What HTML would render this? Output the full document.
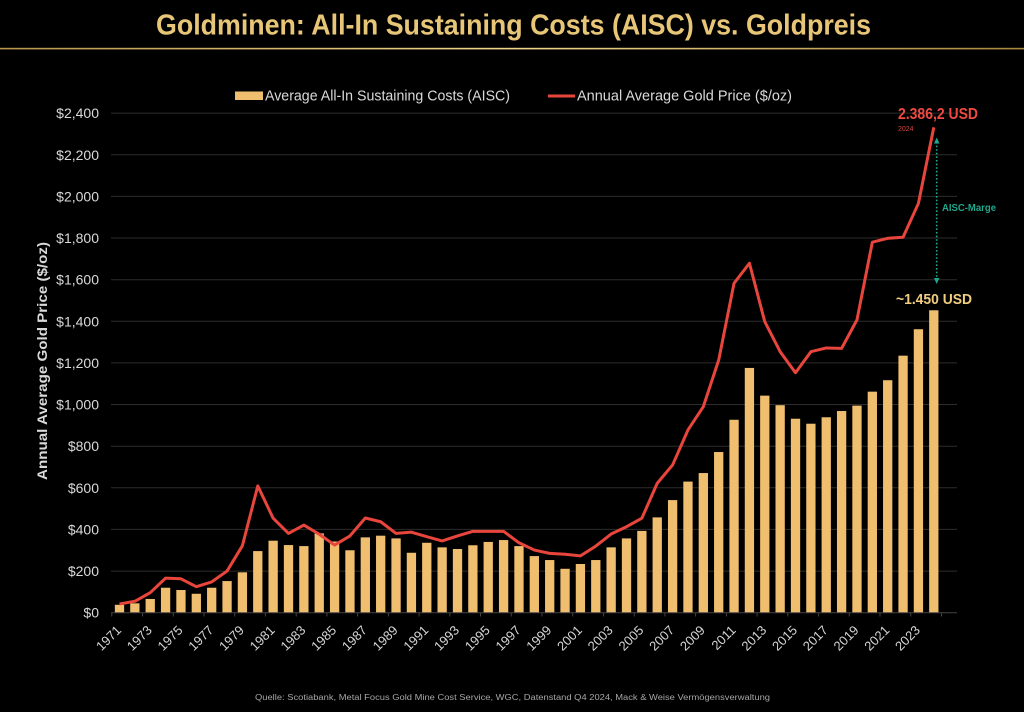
<!DOCTYPE html>
<html>
<head>
<meta charset="utf-8">
<style>
html,body{margin:0;padding:0;background:#000;}
svg{display:block;}
text{font-family:"Liberation Sans",Arial,sans-serif;}
</style>
</head>
<body>
<svg width="1024" height="712" viewBox="0 0 1024 712" xmlns="http://www.w3.org/2000/svg">
<defs>
<linearGradient id="tl" x1="0" x2="1" y1="0" y2="0">
<stop offset="0" stop-color="#b8954a"/>
<stop offset="0.5" stop-color="#f2d68e"/>
<stop offset="1" stop-color="#a88640"/>
</linearGradient>
</defs>
<rect width="1024" height="712" fill="#000"/>
<!-- Title -->
<text x="156" y="34.5" font-size="29" font-weight="bold" fill="#e8c677" textLength="715" lengthAdjust="spacingAndGlyphs">Goldminen: All-In Sustaining Costs (AISC) vs. Goldpreis</text>
<rect x="0" y="47.8" width="1024" height="1.6" fill="url(#tl)"/>

<!-- Legend -->
<rect x="235" y="91.5" width="28" height="8.5" fill="#efbf6f"/>
<text x="265" y="100.5" font-size="14.5" fill="#d9d9d9" textLength="245" lengthAdjust="spacingAndGlyphs">Average All-In Sustaining Costs (AISC)</text>
<line x1="548" y1="96" x2="575" y2="96" stroke="#e8453c" stroke-width="3"/>
<text x="577" y="100.5" font-size="14.5" fill="#d9d9d9" textLength="215" lengthAdjust="spacingAndGlyphs">Annual Average Gold Price ($/oz)</text>

<!-- Gridlines -->
<g stroke="#2c2c2c" stroke-width="1">
<line x1="111" x2="957" y1="571.1" y2="571.1"/>
<line x1="111" x2="957" y1="529.4" y2="529.4"/>
<line x1="111" x2="957" y1="487.8" y2="487.8"/>
<line x1="111" x2="957" y1="446.2" y2="446.2"/>
<line x1="111" x2="957" y1="404.5" y2="404.5"/>
<line x1="111" x2="957" y1="362.9" y2="362.9"/>
<line x1="111" x2="957" y1="321.3" y2="321.3"/>
<line x1="111" x2="957" y1="279.7" y2="279.7"/>
<line x1="111" x2="957" y1="238.0" y2="238.0"/>
<line x1="111" x2="957" y1="196.4" y2="196.4"/>
<line x1="111" x2="957" y1="154.8" y2="154.8"/>
<line x1="111" x2="957" y1="113.1" y2="113.1"/>
</g>

<!-- Y labels -->
<g font-size="14" fill="#d9d9d9" text-anchor="end">
<text x="99" y="617.7">$0</text>
<text x="99" y="576.1">$200</text>
<text x="99" y="534.4">$400</text>
<text x="99" y="492.8">$600</text>
<text x="99" y="451.2">$800</text>
<text x="99" y="409.5">$1,000</text>
<text x="99" y="367.9">$1,200</text>
<text x="99" y="326.3">$1,400</text>
<text x="99" y="284.7">$1,600</text>
<text x="99" y="243.0">$1,800</text>
<text x="99" y="201.4">$2,000</text>
<text x="99" y="159.8">$2,200</text>
<text x="99" y="118.1">$2,400</text>
</g>
<text transform="translate(47,361) rotate(-90)" font-size="14" font-weight="bold" fill="#d9d9d9" text-anchor="middle" textLength="238" lengthAdjust="spacingAndGlyphs">Annual Average Gold Price ($/oz)</text>

<!-- Bars -->
<g transform="translate(119.5,612.7) scale(15.364,-0.20813)" fill="#efbf6f">
<rect x="-0.3025" y="0" width="0.605" height="38"/>
<rect x="0.6975" y="0" width="0.605" height="45"/>
<rect x="1.6975" y="0" width="0.605" height="66"/>
<rect x="2.6975" y="0" width="0.605" height="120"/>
<rect x="3.6975" y="0" width="0.605" height="109"/>
<rect x="4.6975" y="0" width="0.605" height="91"/>
<rect x="5.6975" y="0" width="0.605" height="120"/>
<rect x="6.6975" y="0" width="0.605" height="152"/>
<rect x="7.6975" y="0" width="0.605" height="194"/>
<rect x="8.6975" y="0" width="0.605" height="296"/>
<rect x="9.6975" y="0" width="0.605" height="346"/>
<rect x="10.6975" y="0" width="0.605" height="325"/>
<rect x="11.6975" y="0" width="0.605" height="320"/>
<rect x="12.6975" y="0" width="0.605" height="381"/>
<rect x="13.6975" y="0" width="0.605" height="342"/>
<rect x="14.6975" y="0" width="0.605" height="300"/>
<rect x="15.6975" y="0" width="0.605" height="362"/>
<rect x="16.6975" y="0" width="0.605" height="370"/>
<rect x="17.6975" y="0" width="0.605" height="357"/>
<rect x="18.6975" y="0" width="0.605" height="288"/>
<rect x="19.6975" y="0" width="0.605" height="336"/>
<rect x="20.6975" y="0" width="0.605" height="314"/>
<rect x="21.6975" y="0" width="0.605" height="306"/>
<rect x="22.6975" y="0" width="0.605" height="324"/>
<rect x="23.6975" y="0" width="0.605" height="340"/>
<rect x="24.6975" y="0" width="0.605" height="349"/>
<rect x="25.6975" y="0" width="0.605" height="320"/>
<rect x="26.6975" y="0" width="0.605" height="272"/>
<rect x="27.6975" y="0" width="0.605" height="253"/>
<rect x="28.6975" y="0" width="0.605" height="211"/>
<rect x="29.6975" y="0" width="0.605" height="234"/>
<rect x="30.6975" y="0" width="0.605" height="253"/>
<rect x="31.6975" y="0" width="0.605" height="314"/>
<rect x="32.6975" y="0" width="0.605" height="357"/>
<rect x="33.6975" y="0" width="0.605" height="393"/>
<rect x="34.6975" y="0" width="0.605" height="458"/>
<rect x="35.6975" y="0" width="0.605" height="541"/>
<rect x="36.6975" y="0" width="0.605" height="630"/>
<rect x="37.6975" y="0" width="0.605" height="671"/>
<rect x="38.6975" y="0" width="0.605" height="772"/>
<rect x="39.6975" y="0" width="0.605" height="927"/>
<rect x="40.6975" y="0" width="0.605" height="1176"/>
<rect x="41.6975" y="0" width="0.605" height="1043"/>
<rect x="42.6975" y="0" width="0.605" height="997"/>
<rect x="43.6975" y="0" width="0.605" height="932"/>
<rect x="44.6975" y="0" width="0.605" height="908"/>
<rect x="45.6975" y="0" width="0.605" height="939"/>
<rect x="46.6975" y="0" width="0.605" height="969"/>
<rect x="47.6975" y="0" width="0.605" height="995"/>
<rect x="48.6975" y="0" width="0.605" height="1062"/>
<rect x="49.6975" y="0" width="0.605" height="1117"/>
<rect x="50.6975" y="0" width="0.605" height="1235"/>
<rect x="51.6975" y="0" width="0.605" height="1362"/>
<rect x="52.6975" y="0" width="0.605" height="1453"/>
</g>

<!-- Axis line and ticks -->
<line x1="111" x2="957" y1="612.7" y2="612.7" stroke="#444" stroke-width="1"/>
<g stroke="#444" stroke-width="1">
<line x1="111.8" x2="111.8" y1="612.7" y2="616.5"/>
<line x1="142.5" x2="142.5" y1="612.7" y2="616.5"/>
<line x1="173.3" x2="173.3" y1="612.7" y2="616.5"/>
<line x1="204.0" x2="204.0" y1="612.7" y2="616.5"/>
<line x1="234.7" x2="234.7" y1="612.7" y2="616.5"/>
<line x1="265.4" x2="265.4" y1="612.7" y2="616.5"/>
<line x1="296.2" x2="296.2" y1="612.7" y2="616.5"/>
<line x1="326.9" x2="326.9" y1="612.7" y2="616.5"/>
<line x1="357.6" x2="357.6" y1="612.7" y2="616.5"/>
<line x1="388.4" x2="388.4" y1="612.7" y2="616.5"/>
<line x1="419.1" x2="419.1" y1="612.7" y2="616.5"/>
<line x1="449.8" x2="449.8" y1="612.7" y2="616.5"/>
<line x1="480.5" x2="480.5" y1="612.7" y2="616.5"/>
<line x1="511.3" x2="511.3" y1="612.7" y2="616.5"/>
<line x1="542.0" x2="542.0" y1="612.7" y2="616.5"/>
<line x1="572.7" x2="572.7" y1="612.7" y2="616.5"/>
<line x1="603.5" x2="603.5" y1="612.7" y2="616.5"/>
<line x1="634.2" x2="634.2" y1="612.7" y2="616.5"/>
<line x1="664.9" x2="664.9" y1="612.7" y2="616.5"/>
<line x1="695.6" x2="695.6" y1="612.7" y2="616.5"/>
<line x1="726.4" x2="726.4" y1="612.7" y2="616.5"/>
<line x1="757.1" x2="757.1" y1="612.7" y2="616.5"/>
<line x1="787.8" x2="787.8" y1="612.7" y2="616.5"/>
<line x1="818.6" x2="818.6" y1="612.7" y2="616.5"/>
<line x1="849.3" x2="849.3" y1="612.7" y2="616.5"/>
<line x1="880.0" x2="880.0" y1="612.7" y2="616.5"/>
<line x1="910.7" x2="910.7" y1="612.7" y2="616.5"/>
<line x1="941.5" x2="941.5" y1="612.7" y2="616.5"/>
</g>

<!-- Gold price line -->
<g transform="translate(119.5,612.7) scale(15.364,-0.20813)">
<polyline fill="none" stroke="#e8453c" stroke-width="3" stroke-linejoin="round" vector-effect="non-scaling-stroke"
points="0,42 1,55 2,96 3,166 4,163 5,125 6,148 7,200 8,322 9,609 10,454 11,381 12,421 13,377 14,325 15,369 16,455 17,437 18,381 19,387 20,365 21,345 22,369 23,391 24,391 25,391 26,336 27,301 28,285 29,281 30,273 31,320 32,378 33,413 34,454 35,622 36,710 37,878 38,990 39,1214 40,1583 41,1679 42,1398 43,1254 44,1153 45,1254 46,1272 47,1270 48,1407 49,1780 50,1799 51,1804 52,1967 53,2332"/>
</g>

<!-- X labels -->
<g font-size="13" fill="#d6d6d6" text-anchor="end">
<text transform="translate(122,631) rotate(-45)">1971</text>
<text transform="translate(152.7,631) rotate(-45)">1973</text>
<text transform="translate(183.5,631) rotate(-45)">1975</text>
<text transform="translate(214.2,631) rotate(-45)">1977</text>
<text transform="translate(244.9,631) rotate(-45)">1979</text>
<text transform="translate(275.6,631) rotate(-45)">1981</text>
<text transform="translate(306.4,631) rotate(-45)">1983</text>
<text transform="translate(337.1,631) rotate(-45)">1985</text>
<text transform="translate(367.8,631) rotate(-45)">1987</text>
<text transform="translate(398.6,631) rotate(-45)">1989</text>
<text transform="translate(429.3,631) rotate(-45)">1991</text>
<text transform="translate(460,631) rotate(-45)">1993</text>
<text transform="translate(490.7,631) rotate(-45)">1995</text>
<text transform="translate(521.5,631) rotate(-45)">1997</text>
<text transform="translate(552.2,631) rotate(-45)">1999</text>
<text transform="translate(582.9,631) rotate(-45)">2001</text>
<text transform="translate(613.6,631) rotate(-45)">2003</text>
<text transform="translate(644.4,631) rotate(-45)">2005</text>
<text transform="translate(675.1,631) rotate(-45)">2007</text>
<text transform="translate(705.8,631) rotate(-45)">2009</text>
<text transform="translate(736.6,631) rotate(-45)">2011</text>
<text transform="translate(767.3,631) rotate(-45)">2013</text>
<text transform="translate(798,631) rotate(-45)">2015</text>
<text transform="translate(828.7,631) rotate(-45)">2017</text>
<text transform="translate(859.5,631) rotate(-45)">2019</text>
<text transform="translate(890.2,631) rotate(-45)">2021</text>
<text transform="translate(920.9,631) rotate(-45)">2023</text>
</g>

<!-- Annotations -->
<text x="898" y="119" font-size="15.5" font-weight="bold" fill="#ee4a42" textLength="80" lengthAdjust="spacingAndGlyphs">2.386,2 USD</text>
<text x="898" y="131" font-size="7" fill="#d2433b">2024</text>
<line x1="936.7" y1="142" x2="936.7" y2="279" stroke="#1fa88c" stroke-width="1.6" stroke-dasharray="1.6 2"/>
<polygon points="934,143.5 939.4,143.5 936.7,137.5" fill="#1fa88c"/>
<polygon points="934,278 939.4,278 936.7,284" fill="#1fa88c"/>
<text x="942" y="211" font-size="10" font-weight="bold" fill="#1fa88c" textLength="54" lengthAdjust="spacingAndGlyphs">AISC-Marge</text>
<text x="896" y="304" font-size="15" font-weight="bold" fill="#f2cd80" textLength="76" lengthAdjust="spacingAndGlyphs">~1.450 USD</text>

<!-- Source -->
<text x="255" y="700" font-size="8" fill="#a6a6a6" textLength="515" lengthAdjust="spacingAndGlyphs">Quelle: Scotiabank, Metal Focus Gold Mine Cost Service, WGC, Datenstand Q4 2024, Mack &amp; Weise Vermögensverwaltung</text>
</svg>
</body>
</html>
